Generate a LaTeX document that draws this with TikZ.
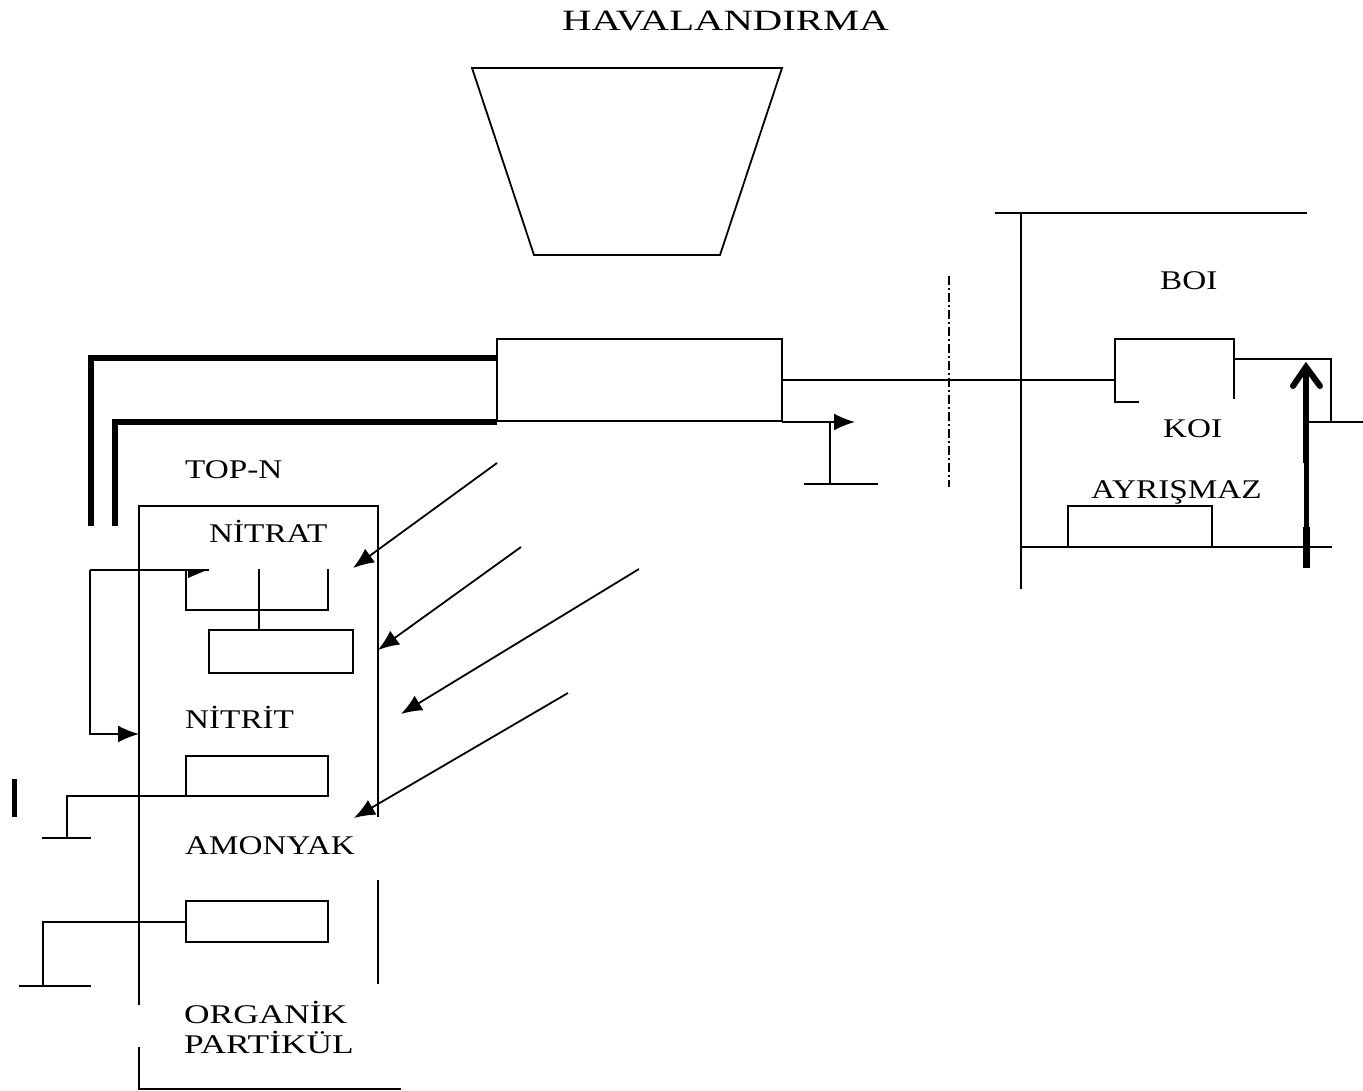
\documentclass[tikz,border=0pt]{standalone}
\usepackage{fontspec}
\setmainfont[FakeStretch=1.38]{Liberation Serif}
\newfontfamily\labfont[FakeStretch=1.23]{Liberation Serif}
\newfontfamily\widefont[FakeStretch=1.31]{Liberation Serif}
\usetikzlibrary{arrows.meta}
\tikzset{x=1pt,y=-1pt,
 ln/.style={draw=black,line width=1.8pt},
 thick3/.style={draw=black,line width=6pt},
 arr/.style={ln,-{Latex[length=21pt,width=17pt]}},
 lab/.style={font=\labfont\fontsize{27}{30}\selectfont,inner sep=0pt,anchor=base west,text=black},
 widelab/.style={font=\widefont\fontsize{27}{30}\selectfont,inner sep=0pt,anchor=base west,text=black},
 title/.style={font=\fontsize{29.5}{30}\selectfont,inner sep=0pt,anchor=base west,text=black}}
\begin{document}
\begin{tikzpicture}
\useasboundingbox (0,0) rectangle (1363,1091);
\node[title] (havalandirma) at (562,31) {HAVALANDIRMA};
\node[lab] (boi) at (1160,290) {BOI};
\node[lab] (koi) at (1163,437) {KOI};
\node[lab] (ayrismaz) at (1091,498) {AYRIŞMAZ};
\node[lab] (topn) at (185,478) {TOP-N};
\node[lab] (nitrat) at (209,542) {NİTRAT};
\node[lab] (nitrit) at (185,728) {NİTRİT};
\node[lab] (amonyak) at (185,854) {AMONYAK};
\node[widelab] (organik) at (184,1023) {ORGANİK};
\node[widelab] (partikul) at (184,1053) {PARTİKÜL};
% hopper
\draw[ln] (472,68) -- (782,68) -- (720,255) -- (534,255) -- cycle;
% central box
\draw[ln] (497,339) rectangle (782,421);
\coordinate (hs1) at (497,358); \coordinate (hs2) at (497,422);
\draw[thick3] (hs1) -- (91,358) -- (91,526);
\draw[thick3] (hs2) -- (115,422) -- (115,526);
% right line
\coordinate (c1) at (782,380); \coordinate (c2) at (1115,380);
\draw[ln] (c1) -- (c2);
\draw[ln] (1139,402) -- (1115,402) -- (1115,339) -- (1234,339) -- (1234,399);
\draw[ln,dash pattern=on 9pt off 3pt on 2pt off 3pt] (949,276) -- (949,487);
% small arrow and ground
\coordinate (d1) at (782,422); \coordinate (d2) at (855,422);
\draw[arr] (d1) -- (d2);
\draw[ln] (830,422) -- (830,484);
\draw[ln] (804,484) -- (878,484);
% right frame
\draw[ln] (995,213) -- (1307,213);
\draw[ln] (1021,213) -- (1021,589);
\draw[ln] (1021,547) -- (1332,547);
\draw[ln] (1068,547) -- (1068,506) -- (1212,506) -- (1212,547);
\draw[ln] (1234,359) -- (1331,359) -- (1331,422);
\draw[ln] (1306,422) -- (1363,422);
\draw[draw=black,line width=7pt] (1306,568) -- (1306,527);
\draw[draw=black,line width=4.5pt] (1306.5,527) -- (1306.5,463);
\draw[draw=black,line width=6.5pt] (1306,463) -- (1306,368);
\draw[draw=black,line width=6pt,line cap=round,line join=miter] (1293,386) -- (1306,367) -- (1320,386);
% left frame
\draw[ln] (139,1005) -- (139,506) -- (378,506) -- (378,817);
\draw[ln] (378,880) -- (378,984);
\draw[ln] (139,1047) -- (139,1089) -- (401,1089);
% nitrat bracket
\draw[ln] (186,570) -- (186,610) -- (328,610) -- (328,569);
\draw[ln] (259,569) -- (259,630);
\draw[ln] (209,630) rectangle (353,673);
% loop
\coordinate (l1) at (209,570); \coordinate (l2) at (139,734);
\draw[ln] (90,570) -- (l1);
\fill[black] (188,570) -- (209,569) -- (188,578) -- cycle;
\draw[arr] (90,570) -- (90,734) -- (l2);
% nitrit box
\draw[ln] (186,756) rectangle (328,796);
\draw[ln] (186,796) -- (67,796) -- (67,838);
\draw[ln] (42,838) -- (91,838);
\draw[draw=black,line width=5pt] (14,779) -- (14,817);
% amonyak box
\draw[ln] (186,901) rectangle (328,942);
\draw[ln] (186,922) -- (43,922) -- (43,986);
\draw[ln] (19,986) -- (91,986);
% diagonal arrows
\coordinate (a1) at (497,463); \coordinate (a2) at (353,568);
\coordinate (b1) at (521,547); \coordinate (b2) at (378,650);
\coordinate (e1) at (639,569); \coordinate (e2) at (401,714);
\coordinate (f1) at (568,693); \coordinate (f2) at (354,818);
\draw[arr] (a1) -- (a2);
\draw[arr] (b1) -- (b2);
\draw[arr] (e1) -- (e2);
\draw[arr] (f1) -- (f2);
\end{tikzpicture}
\end{document}
